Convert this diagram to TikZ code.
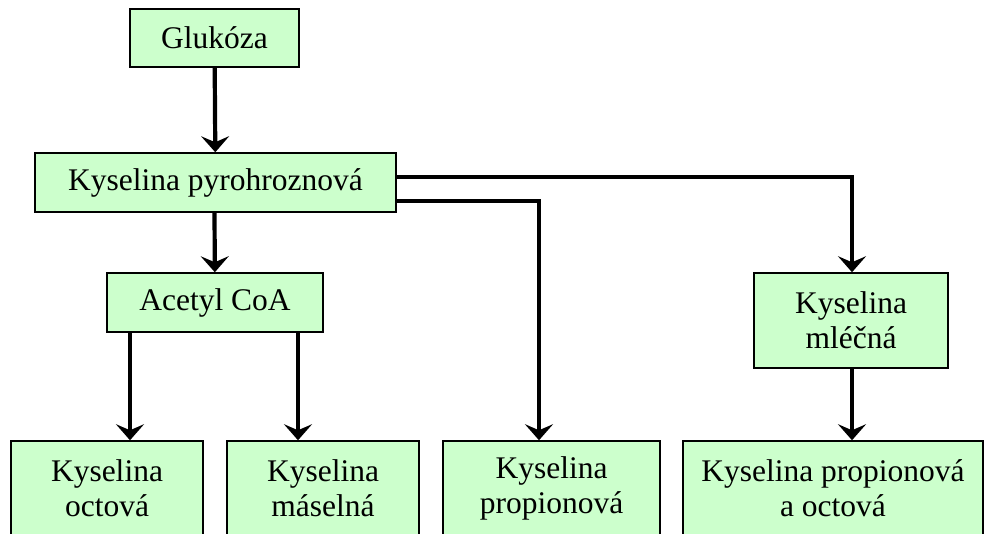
\documentclass[tikz,border=0pt]{standalone}
\usepackage{fontspec}
\setmainfont{Liberation Serif}
\usepackage{tikz}
\usetikzlibrary{arrows.meta,positioning}
\definecolor{boxGreen}{RGB}{204,255,204}

\begin{document}
\begin{tikzpicture}[
    x=0.5pt,y=-0.5pt,
    kbox/.style={draw,line width=0.75pt,fill=boxGreen,inner sep=0pt,align=center,
      font=\fontsize{15.75}{17.5}\selectfont},
    arrow/.style={-{Stealth[length=8pt,width=14pt,inset=3pt]},line width=2.1pt,black}
  ]
    \clip (0,0) rectangle (984,534);
    \node[kbox,minimum width=84.5pt,minimum height=29pt] (gluk) at (214.5,38) {Glukóza};
    \node[kbox,minimum width=180.5pt,minimum height=29.5pt] (pyro) at (215.5,182.5) {Kyselina pyrohroznová};
    \node[kbox,minimum width=108pt,minimum height=29.5pt] (acetyl) at (215,302.5) {Acetyl CoA};
    \node[kbox,minimum width=97pt,minimum height=47.5pt] (mlecna) at (851,320.5) {Kyselina\\mléčná};
    \node[kbox,minimum width=96pt,minimum height=47.5pt] (octova) at (107,488.5) {Kyselina\\octová};
    \node[kbox,minimum width=96pt,minimum height=47.5pt] (maselna) at (323,488.5) {Kyselina\\máselná};
    \node[kbox,minimum width=108.5pt,minimum height=47.5pt] (propio) at (551.5,488.5) {Kyselina\\propionová};
    \node[kbox,minimum width=150pt,minimum height=47.5pt] (propoct) at (833,488.5) {Kyselina propionová\\a octová};
    % arrow columns
    \coordinate (c1) at (130,177);
    \coordinate (c2) at (298,201);
    \coordinate (c3) at (539,201);
    \coordinate (c4) at (852,177);
    \draw[arrow] (gluk) -- (pyro);
    \draw[arrow] (pyro.south -| gluk) -- (acetyl);
    \draw[arrow] (acetyl.south -| c1) -- (octova.north -| c1);
    \draw[arrow] (acetyl.south -| c2) -- (maselna.north -| c2);
    \draw[arrow] (pyro.east |- c3) -| (propio.north -| c3);
    \draw[arrow] (pyro.east |- c4) -| (mlecna.north -| c4);
    \draw[arrow] (mlecna.south -| c4) -- (propoct.north -| c4);
  \end{tikzpicture}
\end{document}
